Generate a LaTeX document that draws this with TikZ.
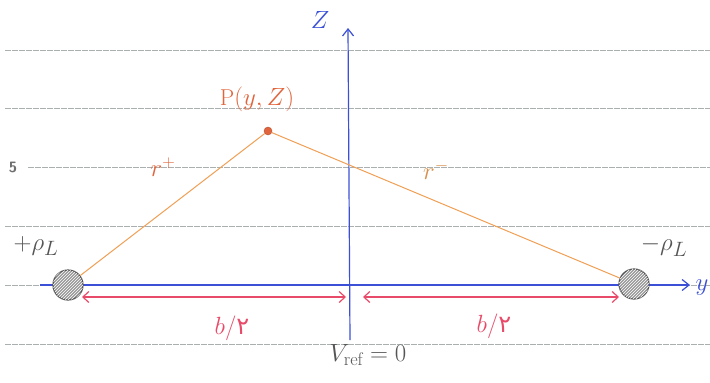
\documentclass[tikz,border=0pt]{standalone}
\usepackage{fontspec}
\newfontfamily\pfont[Script=Arabic]{DejaVu Sans}
\usetikzlibrary{arrows.meta,patterns}
\definecolor{axisblue}{RGB}{60,80,215}
\definecolor{lineor}{RGB}{240,160,85}
\definecolor{arrred}{RGB}{232,75,105}
\definecolor{pencil}{RGB}{85,85,85}
\definecolor{ruleg}{RGB}{170,175,175}
\definecolor{pred}{RGB}{225,100,60}
\begin{document}
\begin{tikzpicture}[x=1pt,y=-1pt,
  ruling/.style={ruleg, line width=0.8pt, dash pattern=on 6pt off 1pt},
  axisline/.style={axisblue, line width=1.2pt, -{Straight Barb[length=7pt,width=11pt]}},
  charge/.style={circle, minimum size=30pt, inner sep=0pt, draw=pencil, line width=1.2pt,
    fill=gray!80, postaction={pattern=north east lines, pattern color=white}},
  pt/.style={circle, minimum size=8pt, inner sep=0pt, fill=pred, draw=pred!80!black},
  dist/.style={lineor, line width=1pt},
  span/.style={arrred, line width=1.2pt, {Straight Barb[length=6pt,width=11pt]}-{Straight Barb[length=6pt,width=11pt]}},
  lbl/.style={inner sep=0pt}
]
\path[use as bounding box, fill=white] (0,0) rectangle (710,383);
% ruled paper
\foreach \yy in {50,108,226,285,344}{\draw[ruling] (5,\yy) -- (710,\yy);}
\draw[ruling] (28,167) -- (710,167);
\node[lbl, pencil!85, font=\sffamily\bfseries\fontsize{15}{15}\selectfont] (five) at (13,167) {5};
% axes
\coordinate (zbot) at (350,340);
\coordinate (ztop) at (348,28);
\coordinate (yleft) at (40,285);
\coordinate (yright) at (690,285);
\draw[axisline] (zbot) -- (ztop);
\draw[axisline] (yleft) -- (yright);
\node[lbl, axisblue, font=\fontsize{28}{28}\selectfont] (zl) at (320,20) {$Z$};
\node[lbl, axisblue, font=\fontsize{30}{30}\selectfont] (yl) at (702,288) {$y$};
% charges
\node[charge] (qp) at (68,285) {};
\node[charge] (qm) at (634,284) {};
\node[lbl, pencil, font=\fontsize{28}{28}\selectfont] (qpl) at (36,246) {$+\rho_L$};
\node[lbl, pencil, font=\fontsize{28}{28}\selectfont] (qml) at (664,246) {$-\rho_L$};
% point P
\node[pt] (P) at (268,131) {};
\node[lbl, pred, font=\fontsize{23}{23}\selectfont] (Pl) at (257,99) {$\mathrm{P}(y,Z)$};
\draw[dist] (qp) -- (P);
\draw[dist] (P) -- (qm);
\node[lbl, pred, font=\fontsize{26}{26}\selectfont] (rp) at (163,167) {$r^{+}$};
\node[lbl, lineor!90!black, font=\fontsize{26}{26}\selectfont] (rm) at (436,170) {$r^{-}$};
% spans
\coordinate (a1) at (82,297);
\coordinate (a2) at (346,297);
\coordinate (a3) at (363,297);
\coordinate (a4) at (619,297);
\draw[span] (a1) -- (a2);
\draw[span] (a3) -- (a4);
\node[lbl, arrred, font=\fontsize{28}{28}\selectfont] (b1) at (232,328) {$b/${\pfont\fontsize{24}{24}\selectfont ۲}};
\node[lbl, arrred, font=\fontsize{28}{28}\selectfont] (b2) at (494,326) {$b/${\pfont\fontsize{24}{24}\selectfont ۲}};
\node[lbl, pencil, font=\fontsize{26}{26}\selectfont] (vref) at (368,355) {$V_{\mathrm{ref}}=0$};
\end{tikzpicture}
\end{document}
